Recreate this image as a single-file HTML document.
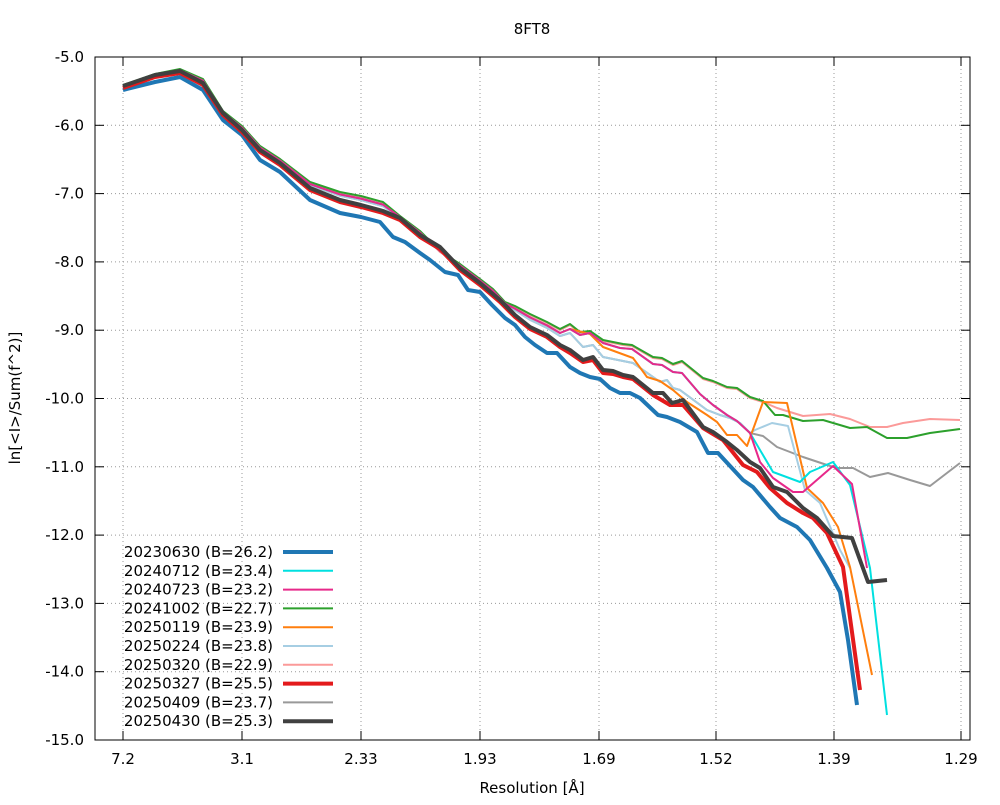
<!DOCTYPE html>
<html><head><meta charset="utf-8"><style>
body{margin:0;background:#fff}
svg text{font-family:"DejaVu Sans","Liberation Sans",sans-serif;font-size:15px;fill:#000}
</style></head><body>
<svg id="s" width="1000" height="800" xmlns="http://www.w3.org/2000/svg">
<rect width="1000" height="800" fill="#fff"/>
<g id="grid" stroke="#999" stroke-width="1" stroke-dasharray="1,3"></g>
<g id="series" fill="none" stroke-linejoin="round"></g>
<rect x="95" y="57" width="875" height="683" fill="none" stroke="#000" stroke-width="1"/>
<g id="ticks" stroke="#000"></g>
<g id="labels"></g>
<text x="532" y="34" text-anchor="middle">8FT8</text>
<text x="532" y="793" text-anchor="middle">Resolution [Å]</text>
<text transform="translate(20,398) rotate(-90)" text-anchor="middle">ln[&lt;I&gt;/Sum(f^2)]</text>
<g id="legend"></g>
</svg>
<script>
const NS="http://www.w3.org/2000/svg";
function el(p,t,a,txt){const e=document.createElementNS(NS,t);for(const k in a)e.setAttribute(k,a[k]);if(txt!==undefined)e.textContent=txt;p.appendChild(e);return e;}
const g=document.getElementById('grid'),tk=document.getElementById('ticks'),lb=document.getElementById('labels');
const xt=[[123,"7.2"],[242,"3.1"],[361,"2.33"],[480,"1.93"],[599,"1.69"],[716,"1.52"],[834,"1.39"],[961,"1.29"]];
xt.forEach(([x,t])=>{el(g,'line',{x1:x,y1:57,x2:x,y2:740});el(tk,'line',{x1:x,y1:740,x2:x,y2:731});el(tk,'line',{x1:x,y1:57,x2:x,y2:66});el(lb,'text',{x:x,y:764,'text-anchor':'middle'},t);});
for(let i=0;i<=10;i++){const y=57+i*68.3;const v=(-5-i).toFixed(1);
 el(g,'line',{x1:95,y1:y,x2:970,y2:y});el(tk,'line',{x1:95,y1:y,x2:104,y2:y});el(tk,'line',{x1:970,y1:y,x2:961,y2:y});
 el(lb,'text',{x:84,y:y+5,'text-anchor':'end'},v);}
const upL=[[123,86],[155,75],[180,70],[203,80],[223,112],[242,127],[260,147],[280,160],[310,183],[340,193],[361,197],[383,203],[400,217],[420,232],[440,252],[460,265],[480,280],[493,290],[505,303],[515,307],[530,315],[547,323],[560,330],[570,325]];
const blkL=[[123,86],[155,75],[180,71],[203,83],[223,113],[242,130],[260,150],[280,163],[310,188],[340,200],[361,205],[383,211],[400,218],[420,235],[440,247],[460,268],[480,283],[500,300],[515,315],[530,327],[547,335],[560,345]];
function mix(a,f){return upL.map(p=>[p[0],p[1]+f*(interp(blkL,p[0])-p[1])]);}
function interp(arr,x){for(let i=0;i<arr.length-1;i++){if(x>=arr[i][0]&&x<=arr[i+1][0]){const t=(x-arr[i][0])/(arr[i+1][0]-arr[i][0]);return arr[i][1]+t*(arr[i+1][1]-arr[i][1]);}}return arr[arr.length-1][1];}
const upR=[[580,333],[590,332],[603,341],[623,345],[632,346],[653,358],[662,359],[673,365],[682,362],[703,379],[713,382],[727,388],[737,389],[750,398],[763,402]];
const magR=[[580,335],[590,333],[603,343],[620,348],[632,349],[653,364],[662,365],[673,372],[682,373],[700,394],[713,405],[727,415],[737,421],[750,433]];
const grR=[[583,347],[593,345],[603,357],[633,363],[660,382],[667,380],[673,388],[680,390],[707,410],[720,415],[730,418],[740,423],[750,433]];
const orR=[[590,334],[603,347],[633,358],[647,377],[660,381],[673,390],[687,402],[707,415],[717,422],[727,435],[737,435],[747,446]];
const S=[];
const L0=mix(0,0), L03=mix(0,0.2), L05=mix(0,0.4);
S.push({c:'#fb9a99',w:2,p:[...L0,...upR,[777,408],[803,416],[830,414],[850,419],[870,427],[887,427],[903,423],[930,419],[960,420]]});
S.push({c:'#2ca02c',w:2,p:[...L0.map(p=>[p[0],p[1]-1]),...upR.map(p=>[p[0],p[1]-1]),[775,415],[783,415],[803,421],[823,420],[850,428],[867,427],[887,438],[907,438],[930,433],[960,429]]});
S.push({c:'#999999',w:2,p:[...L05,...grR,[763,436],[777,447],[803,457],[827,465],[837,468],[853,468],[870,477],[888,473],[910,480],[930,486],[960,463]]});
S.push({c:'#a6cee3',w:2,p:[...L05,...grR,[755,430],[772,423],[788,426],[805,490],[820,503],[840,550],[850,568]]});
S.push({c:'#ff7f0e',w:2,p:[...L03,...orR,[763,402],[787,403],[807,488],[823,503],[838,527],[850,567],[872,675]]});
S.push({c:'#00e0e0',w:2,p:[...L03,...magR,[773,472],[800,482],[810,472],[833,462],[850,485],[870,568],[887,715]]});
S.push({c:'#e7298a',w:2,p:[...L03,...magR,[760,462],[773,478],[793,492],[803,492],[833,466],[852,484],[867,568]]});
S.push({c:'#1f77b4',w:4,p:[[123,90],[155,82],[180,77],[203,90],[223,120],[242,135],[260,160],[280,172],[310,200],[340,213],[361,217],[380,222],[393,237],[405,242],[420,253],[430,260],[445,272],[458,275],[468,290],[480,292],[492,305],[505,318],[515,325],[525,337],[535,345],[547,353],[557,353],[570,367],[580,373],[590,377],[600,379],[610,388],[620,393],[630,393],[640,398],[658,415],[667,417],[680,422],[697,432],[708,453],[718,453],[743,480],[753,487],[770,507],[780,518],[797,527],[810,540],[827,568],[840,592],[848,640],[857,705]]});
S.push({c:'#e31a1c',w:4,p:[...blkL.map(p=>[p[0],p[1]+2]),[570,353],[583,362],[593,360],[603,373],[613,374],[623,377],[633,379],[653,395],[670,405],[683,405],[703,428],[723,440],[743,465],[757,472],[770,488],[787,503],[803,513],[813,518],[827,533],[843,567],[860,690]]});
S.push({c:'#404040',w:4,p:[...blkL,[570,350],[583,360],[593,357],[603,370],[613,371],[623,375],[633,377],[653,393],[663,393],[672,403],[683,400],[703,427],[713,432],[727,442],[737,450],[750,462],[760,468],[773,487],[787,492],[803,508],[817,518],[833,536],[852,538],[868,582],[887,580]]});
const sg=document.getElementById('series');
S.forEach(s=>el(sg,'polyline',{points:s.p.map(p=>p.join(',')).join(' '),stroke:s.c,'stroke-width':s.w}));
const leg=[["20230630 (B=26.2)",'#1f77b4',4],["20240712 (B=23.4)",'#00e0e0',2],["20240723 (B=23.2)",'#e7298a',2],["20241002 (B=22.7)",'#2ca02c',2],["20250119 (B=23.9)",'#ff7f0e',2],["20250224 (B=23.8)",'#a6cee3',2],["20250320 (B=22.9)",'#fb9a99',2],["20250327 (B=25.5)",'#e31a1c',4],["20250409 (B=23.7)",'#999999',2],["20250430 (B=25.3)",'#404040',4]];
const lg=document.getElementById('legend');
leg.forEach(([t,c,w],i)=>{const y=552+i*18.8;el(lg,'text',{x:273,y:y+5,'text-anchor':'end'},t);el(lg,'line',{x1:283,y1:y,x2:333,y2:y,stroke:c,'stroke-width':w});});
</script>
</body></html>
